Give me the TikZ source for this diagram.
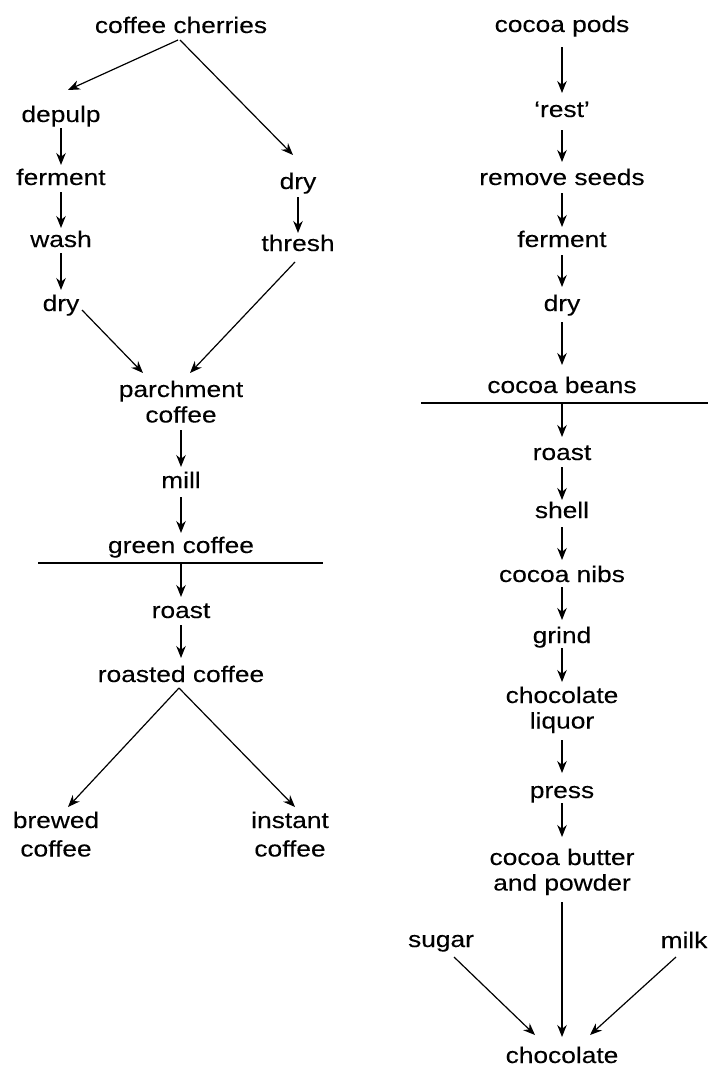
\documentclass[tikz,border=0pt]{standalone}
\usepackage{fontspec}
\setmainfont{Liberation Sans}[FakeStretch=1.17,FakeBold=0.15]
\usetikzlibrary{arrows.meta}
\newcommand\twolines[2]{\vtop{\tabskip=0pt\halign{\hfil##\hfil\cr#1\cr#2\cr}}}
\begin{document}
\begin{tikzpicture}[x=1pt,y=-1pt,
  lbl/.style={inner sep=0pt, anchor=base, font=\fontsize{22.5}{25.5}\selectfont},
  wide/.style={font=\fontsize{22.5}{28.5}\selectfont},
  arr/.style={line width=1.2pt, -{Stealth[length=12pt,width=9.5pt]}},
  rulel/.style={line width=1.2pt}]
\useasboundingbox (0,0) rectangle (708,1068);

% ---------- coffee ----------
\node[lbl] (cc)  at (181,33)  {coffee cherries};
\node[lbl] (dep) at (61,122)  {depulp};
\node[lbl] (fer) at (61,185)  {ferment};
\node[lbl] (wsh) at (61,247)  {wash};
\node[lbl] (ldr) at (61,311)  {dry};
\node[lbl] (rdr) at (298,189) {dry};
\node[lbl] (thr) at (298,251) {thresh};
\node[lbl] (par) at (181,397) {\twolines{parchment}{coffee}};
\node[lbl] (mil) at (181,488) {mill};
\node[lbl] (grn) at (181,553) {green coffee};
\node[lbl] (rst) at (181,618) {roast};
\node[lbl] (rcf) at (181,682) {roasted coffee};
\node[lbl,wide] (brw) at (56,828)  {\twolines{brewed}{coffee}};
\node[lbl,wide] (ins) at (290,828) {\twolines{instant}{coffee}};

\draw[rulel] (38,563) -- (323,563);

\draw[arr] ([xshift=-3pt,yshift=-7pt]cc.base) -- ([xshift=7pt,yshift=32pt]dep.base);
\draw[arr] ([xshift=-1pt,yshift=-7pt]cc.base) -- ([xshift=-5pt,yshift=34pt]rdr.base);
\draw[arr] ([yshift=-6pt]dep.base) -- ([yshift=20pt]fer.base);
\draw[arr] ([yshift=-7pt]fer.base) -- ([yshift=19pt]wsh.base);
\draw[arr] ([yshift=-6pt]wsh.base) -- ([yshift=21pt]ldr.base);
\draw[arr] ([yshift=-8pt]rdr.base) -- ([yshift=18pt]thr.base);
\draw[arr] ([xshift=21pt,yshift=1pt]ldr.base) -- ([xshift=-38pt,yshift=24pt]par.base);
\draw[arr] ([xshift=-3pt,yshift=-11pt]thr.base) -- ([xshift=9pt,yshift=24pt]par.base);
\draw[arr] ([yshift=-33pt]par.base) -- ([yshift=21pt]mil.base);
\draw[arr] ([yshift=-9pt]mil.base) -- ([yshift=20pt]grn.base);
\draw[arr] ([yshift=-10pt]grn.base) -- ([yshift=21pt]rst.base);
\draw[arr] ([yshift=-7pt]rst.base) -- ([yshift=24pt]rcf.base);
\draw[arr] ([xshift=-2pt,yshift=-6pt]rcf.base) -- ([xshift=12pt,yshift=21pt]brw.base);
\draw[arr] ([xshift=-2pt,yshift=-6pt]rcf.base) -- ([xshift=5pt,yshift=21pt]ins.base);

% ---------- cocoa ----------
\node[lbl] (pod) at (562,32)  {cocoa pods};
\node[lbl] (res) at (562,117) {`rest'};
\node[lbl] (sds) at (562,185) {remove seeds};
\node[lbl] (cfe) at (562,247) {ferment};
\node[lbl] (cdr) at (562,311) {dry};
\node[lbl] (bns) at (562,393) {cocoa beans};
\node[lbl] (crs) at (562,460) {roast};
\node[lbl] (shl) at (562,518) {shell};
\node[lbl] (nib) at (562,582) {cocoa nibs};
\node[lbl] (grd) at (562,643) {grind};
\node[lbl] (liq) at (562,703) {\twolines{chocolate}{liquor}};
\node[lbl] (prs) at (562,798) {press};
\node[lbl] (cbp) at (562,865) {\twolines{cocoa butter}{and powder}};
\node[lbl] (sug) at (441,947) {sugar};
\node[lbl] (mlk) at (684,948) {milk};
\node[lbl] (cho) at (562,1063) {chocolate};

\draw[rulel] (421,403) -- (708,403);

\draw[arr] ([yshift=-15pt]pod.base) -- ([yshift=24pt]res.base);
\draw[arr] ([yshift=-13pt]res.base) -- ([yshift=23pt]sds.base);
\draw[arr] ([yshift=-8pt]sds.base) -- ([yshift=20pt]cfe.base);
\draw[arr] ([yshift=-8pt]cfe.base) -- ([yshift=24pt]cdr.base);
\draw[arr] ([yshift=-11pt]cdr.base) -- ([yshift=28pt]bns.base);
\draw[arr] ([yshift=-10pt]bns.base) -- ([yshift=23pt]crs.base);
\draw[arr] ([yshift=-7pt]crs.base) -- ([yshift=18pt]shl.base);
\draw[arr] ([yshift=-9pt]shl.base) -- ([yshift=22pt]nib.base);
\draw[arr] ([yshift=-5pt]nib.base) -- ([yshift=23pt]grd.base);
\draw[arr] ([yshift=-5pt]grd.base) -- ([yshift=21pt]liq.base);
\draw[arr] ([yshift=-37pt]liq.base) -- ([yshift=25pt]prs.base);
\draw[arr] ([yshift=-5pt]prs.base) -- ([yshift=28pt]cbp.base);
\draw[arr] ([yshift=-37pt]cbp.base) -- ([yshift=26pt]cho.base);
\draw[arr] ([xshift=13pt,yshift=-10pt]sug.base) -- ([xshift=-27pt,yshift=28pt]cho.base);
\draw[arr] ([xshift=-8pt,yshift=-9pt]mlk.base) -- ([xshift=28pt,yshift=28pt]cho.base);
\end{tikzpicture}
\end{document}
